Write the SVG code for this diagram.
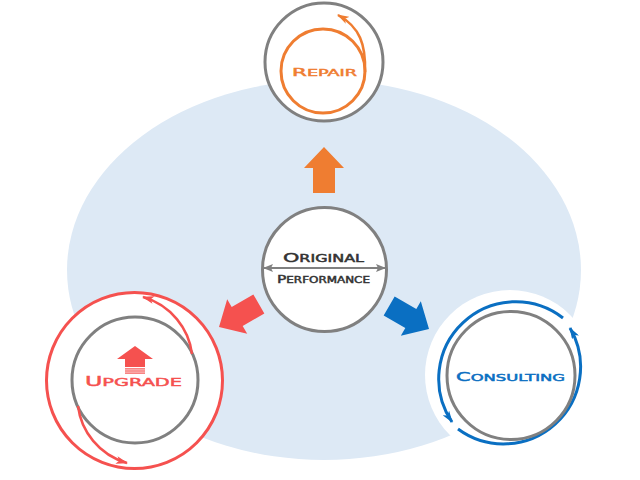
<svg xmlns="http://www.w3.org/2000/svg" width="640" height="480" viewBox="0 0 640 480">
<style>
.ring{fill:#fff;stroke:#808080;stroke-width:3}
.lbl{font-family:"DejaVu Sans",sans-serif;font-weight:normal;stroke-width:0.45}
.or{fill:#ef7d31}.rd{fill:#f5514f}.bl{fill:#0a6fc2}
</style>
<defs>
<marker id="mo" markerUnits="userSpaceOnUse" viewBox="0 0 12 8" refX="11" refY="4" markerWidth="12" markerHeight="8" orient="auto"><path d="M0,0 L12,4 L0,8 L3,4 z" fill="#ef7d31"/></marker>
<marker id="mr" markerUnits="userSpaceOnUse" viewBox="0 0 12 8" refX="11" refY="4" markerWidth="12" markerHeight="8" orient="auto"><path d="M0,0 L12,4 L0,8 L3,4 z" fill="#f5514f"/></marker>
<marker id="mb" markerUnits="userSpaceOnUse" viewBox="0 0 12 8" refX="11" refY="4" markerWidth="12" markerHeight="8" orient="auto"><path d="M0,0 L12,4 L0,8 L3,4 z" fill="#0a6fc2"/></marker>
<marker id="mg" markerUnits="userSpaceOnUse" viewBox="0 0 10 8" refX="9" refY="4" markerWidth="10" markerHeight="8" orient="auto-start-reverse"><path d="M0,0 L10,4 L0,8 L2,4 z" fill="#808080"/></marker>
<polygon id="bigArrow" points="0,0 -21,-20 -21,-11 -46,-11 -46,11 -21,11 -21,20"/>
</defs>
<ellipse id="background" cx="324" cy="270" rx="257" ry="190" fill="#dde9f5"/>
<g id="connectors">
<use href="#bigArrow" class="or" transform="translate(324,147) rotate(-90)"/>
<use href="#bigArrow" class="rd" transform="translate(219,327) rotate(150)"/>
<use href="#bigArrow" class="bl" transform="translate(429,329) rotate(30)"/>
</g>
<g id="node-repair">
<circle class="ring" cx="324" cy="62" r="59"/>
<circle cx="323" cy="71" r="42" fill="none" stroke="#ef7d31" stroke-width="3"/>
<path d="M365,72 C366,45 360,27 338,15" fill="none" stroke="#ef7d31" stroke-width="2.5" marker-end="url(#mo)"/>
<text class="lbl" x="292" y="76" textLength="65" lengthAdjust="spacingAndGlyphs" fill="#ef7d31" stroke="#ef7d31"><tspan font-size="11">R</tspan><tspan font-size="9">EPAIR</tspan></text>
</g>
<g id="node-original">
<circle class="ring" cx="324.5" cy="269.5" r="62"/>
<line x1="264" y1="268" x2="385" y2="268" stroke="#808080" stroke-width="2" marker-start="url(#mg)" marker-end="url(#mg)"/>
<text class="lbl" x="283" y="262" textLength="81" lengthAdjust="spacingAndGlyphs" fill="#333" stroke="#333"><tspan font-size="12.5">O</tspan><tspan font-size="9.6">RIGINAL</tspan></text>
<text class="lbl" x="277" y="283" textLength="93" lengthAdjust="spacingAndGlyphs" fill="#333" stroke="#333"><tspan font-size="11">P</tspan><tspan font-size="8.5">ERFORMANCE</tspan></text>
</g>
<g id="node-upgrade">
<circle cx="134.5" cy="380.5" r="88" fill="#fff" stroke="#f5514f" stroke-width="3"/>
<circle class="ring" cx="135" cy="380" r="63"/>
<path d="M192,354 C189,329 171,305 143,297" fill="none" stroke="#f5514f" stroke-width="2.5" marker-end="url(#mr)"/>
<path d="M78,406 C81,431 99,455 127,463" fill="none" stroke="#f5514f" stroke-width="2.5" marker-end="url(#mr)"/>
<polygon class="rd" points="135,346 117,359 125,359 125,367 145,367 145,359 153,359"/>
<rect class="rd" x="125" y="368.3" width="20" height="1.2"/>
<rect class="rd" x="125" y="370.4" width="20" height="1.2"/>
<rect class="rd" x="125" y="372.5" width="20" height="1.2"/>
<text class="lbl" x="85" y="386" textLength="97" lengthAdjust="spacingAndGlyphs" fill="#f5514f" stroke="#f5514f"><tspan font-size="13.5">U</tspan><tspan font-size="11">PGRADE</tspan></text>
</g>
<g id="node-consulting">
<circle cx="510" cy="375" r="85" fill="#fff"/>
<path d="M563,318 A77,77 0 0 0 452,422" fill="none" stroke="#0a6fc2" stroke-width="3" marker-end="url(#mb)"/>
<path d="M458,429 A77,77 0 0 0 570,328" fill="none" stroke="#0a6fc2" stroke-width="3" marker-end="url(#mb)"/>
<circle class="ring" cx="511" cy="375.5" r="64"/>
<text class="lbl" x="456" y="381" textLength="109" lengthAdjust="spacingAndGlyphs" fill="#0a6fc2" stroke="#0a6fc2"><tspan font-size="11.5">C</tspan><tspan font-size="9">ONSULTING</tspan></text>
</g>
</svg>
